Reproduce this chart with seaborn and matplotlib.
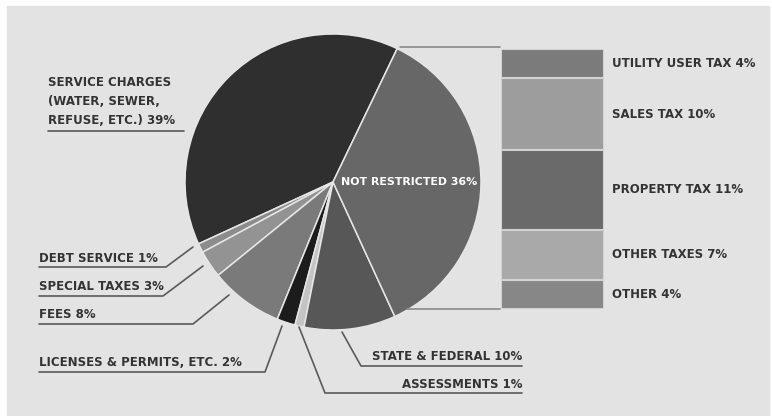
import numpy as np
import matplotlib.pyplot as plt
from matplotlib.patches import Rectangle
import seaborn as sns

# pie slices, counter-clockwise from the top-right boundary
pie_labels = ['Service Charges', 'Debt Service 1%', 'Special Taxes 3%', 'Fees 8%',
              'Licenses & Permits, etc. 2%', 'Assessments 1%', 'State & Federal 10%',
              'Not Restricted 36%']
pie_values = [39, 1, 3, 8, 2, 1, 10, 36]
pie_colors = ['#2f2f2f', '#8c8c8c', '#939393', '#7a7a7a', '#1c1c1c', '#c4c4c4',
              '#575757', '#676767']

# breakdown of the "not restricted" slice, top to bottom
tax_labels = ['Utility User Tax 4%', 'Sales Tax 10%', 'Property Tax 11%',
              'Other Taxes 7%', 'Other 4%']
tax_values = [4, 10, 11, 7, 4]
tax_colors = ['#7b7b7b', '#9d9d9d', '#6a6a6a', '#a9a9a9', '#878787']

W, H = 772, 416
sns.set_theme(style='white')
plt.rcParams['font.family'] = ['DejaVu Sans']
txt = dict(fontsize=8.5, fontweight='bold', color='#333333')
line_c = '#5a5a5a'

fig = plt.figure(figsize=(W / 100, H / 100), dpi=100)
fig.patch.set_facecolor('white')
ax = fig.add_axes([0, 0, 1, 1])
ax.add_patch(Rectangle((7, 0), 762, H - 6, color='#e3e3e3', zorder=0))


def py(y):
    return H - y


# start angle so that the last slice ends on the upper right
start = 90 - 25.7
ax.pie(pie_values, colors=pie_colors, startangle=start, counterclock=True,
       center=(333, py(182)), radius=148, frame=True,
       wedgeprops=dict(edgecolor='#e6e6e6', linewidth=1.1))
ax.set_xlim(0, W)
ax.set_ylim(0, H)
ax.set_aspect('auto')
ax.set_axis_off()

ax.text(341, py(182), pie_labels[7].upper(), ha='left', va='center',
        **{**txt, 'color': 'white', 'fontsize': 7.9})

# service charges label
for i, s in enumerate(['Service Charges', '(water, sewer,', 'refuse, etc.) 39%']):
    ax.text(48, py(82 + i * 19.5), s.upper(), ha='left', va='center', **txt)
ax.plot([48, 184], [py(131), py(131)], color=line_c, lw=1.2)

# left leaders: label, text y, underline y, elbow x, end point
left = [(pie_labels[1], 258, 267, 166, (193, 247)),
        (pie_labels[2], 286, 296, 163, (203, 266)),
        (pie_labels[3], 314, 324, 193, (229, 295)),
        (pie_labels[4], 363, 372, 265, (282, 326))]
for lab, ty, uy, ex, (px_, py_) in left:
    ax.text(39, py(ty), lab.upper(), ha='left', va='center', **txt)
    ax.plot([39, ex, px_], [py(uy), py(uy), py(py_)], color=line_c, lw=1.2)

# bottom leaders
right = [(pie_labels[6], 357, 366, (361, 366), (342, 332)),
         (pie_labels[5], 384, 393, (325, 393), (299, 327))]
for lab, ty, uy, (ex, ey), (px_, py_) in right:
    ax.text(522, py(ty), lab.upper(), ha='right', va='center', **txt)
    ax.plot([522, ex, px_], [py(uy), py(ey), py(py_)], color=line_c, lw=1.2)

# bracket lines to the bar
ax.plot([400, 500], [py(47), py(47)], color='#8a8a8a', lw=1.2)
ax.plot([407, 500], [py(309), py(309)], color='#8a8a8a', lw=1.2)

# stacked bar
bax = fig.add_axes([501 / W, (H - 309) / H, 103 / W, 260 / H])
cum = np.cumsum(tax_values)
for i in range(len(tax_values) - 1, -1, -1):
    sns.barplot(x=['n'], y=[cum[i]], color=tax_colors[i], saturation=1, width=1,
                edgecolor='#d2d2d2', linewidth=1.5, ax=bax)
bax.set_xlim(-0.5, 0.5)
bax.set_ylim(cum[-1], 0)
bax.set_axis_off()

mids = cum - np.array(tax_values) / 2
for lab, m in zip(tax_labels, mids):
    ypx = 49 + m / cum[-1] * 260
    ax.text(612, py(ypx), lab.upper(), ha='left', va='center', **txt)

fig.savefig('out.png', dpi=100, facecolor=fig.get_facecolor())
